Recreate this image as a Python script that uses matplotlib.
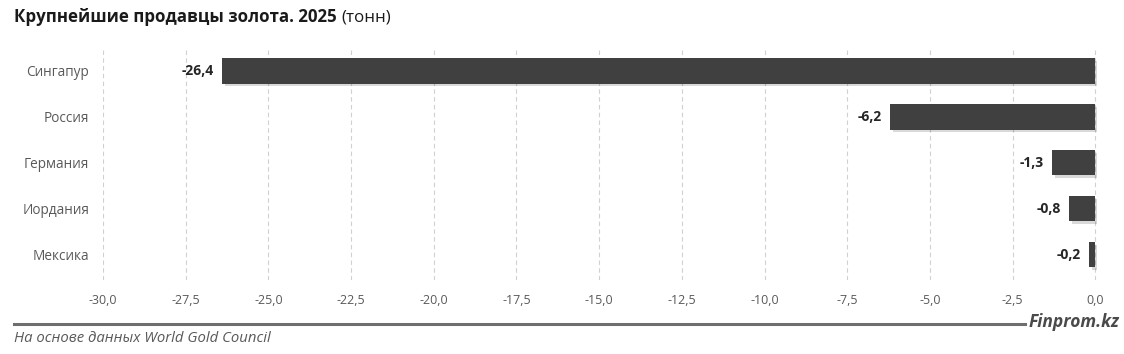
import matplotlib.pyplot as plt
import matplotlib.patheffects as pe
import numpy as np

plt.rcParams["font.family"] = ["Open Sans", "DejaVu Sans"]

countries = ["Сингапур", "Россия", "Германия", "Иордания", "Мексика"]
values = [-26.4, -6.2, -1.3, -0.8, -0.2]
xticks = np.arange(-30.0, 0.1, 2.5)

BAR = "#404040"
GREY = "#595959"

fig = plt.figure(figsize=(11.24, 3.54), dpi=100)
fig.patch.set_facecolor("white")
ax = fig.add_axes((103 / 1124, 1 - 280 / 354, 994 / 1124, 232 / 354))

y = np.arange(len(countries))
bars = ax.barh(y, values, height=0.55, color=BAR, zorder=3)
for b in bars:
    b.set_path_effects([
        pe.SimplePatchShadow(offset=(2, -2), shadow_rgbFace="#000000", alpha=0.15),
        pe.Normal(),
    ])

for yi, v in zip(y, values):
    ax.text(v - 0.25, yi, f"{v:.1f}".replace(".", ","), ha="right", va="center",
            fontsize=10, fontweight="bold", color="#262626", zorder=4)

ax.set_xlim(-30, 0.05)
ax.set_ylim(len(countries) - 0.45, -0.5)
ax.set_xticks(xticks)
ax.set_xticklabels([f"{t:.1f}".replace(".", ",") for t in xticks], color=GREY, fontsize=9)
ax.set_yticks(y)
ax.set_yticklabels(countries, color=GREY, fontsize=9.8)
ax.tick_params(length=0)
ax.tick_params(axis="x", pad=10)
ax.tick_params(axis="y", pad=10)
for s in ax.spines.values():
    s.set_visible(False)
ax.grid(axis="x", color="#d0d0d0", linestyle=(0, (4, 3)), linewidth=0.8, zorder=0)

t = fig.text(14 / 1124, 1 - 17 / 354, "Крупнейшие продавцы золота. 2025", fontsize=12.2,
             fontweight="bold", color="#1a1a1a", ha="left", va="center")
fig.canvas.draw()
bb = t.get_window_extent()
fig.text((bb.x1 + 5) / 1124, 1 - 17 / 354, "(тонн)", fontsize=12.2, color="#1a1a1a",
         ha="left", va="center")

fig.add_artist(plt.Line2D([14 / 1124, 1025 / 1124], [1 - 324 / 354] * 2,
                          color="#6e6e6e", linewidth=2.2))
fig.text(1119 / 1124, 1 - 322 / 354, "Finprom.kz", fontsize=12.5, fontweight="bold",
         style="italic", color="#4a4a4a", ha="right", va="center")
fig.text(14 / 1124, 1 - 339 / 354, "На основе данных World Gold Council", fontsize=10.7,
         style="italic", color=GREY, ha="left", va="center")

fig.savefig("out.png", dpi=100, facecolor="white")
